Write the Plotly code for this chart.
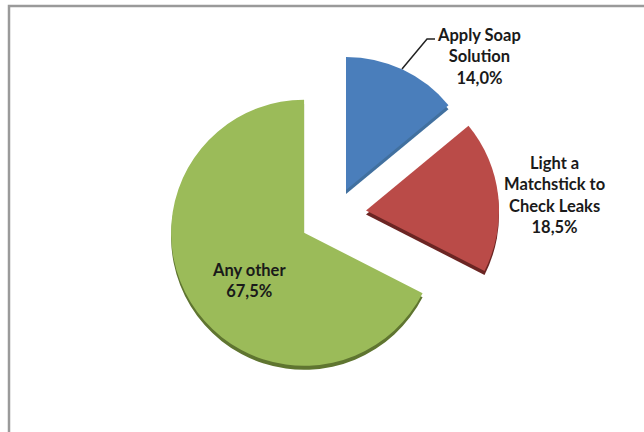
import plotly.graph_objects as go

W, H = 644, 432

labels = ["Apply Soap<br>Solution", "Light a<br>Matchstick to<br>Check Leaks", "Any other"]
values = [14.0, 18.5, 67.5]
pulls = [0.20, 0.237, 0.27]
face_colors = ["#4A7EBB", "#BA4B48", "#9BBB59"]
edge_colors = ["#41709F", "#6B2523", "#5F7530"]
label_centres = [(478.5, 56), (554.5, 195), (249, 280)]

DOMAIN_X = (165.8, 503.6)
DOMAIN_Y = (45, 383)
DEPTH = 4


def pie_layer(colors, shift):
    return go.Pie(
        labels=labels,
        values=values,
        sort=False,
        direction="clockwise",
        rotation=0,
        pull=pulls,
        marker=dict(colors=colors, line=dict(width=0)),
        textinfo="none",
        hoverinfo="label+percent",
        showlegend=False,
        domain=dict(
            x=[DOMAIN_X[0] / W, DOMAIN_X[1] / W],
            y=[1 - (DOMAIN_Y[1] + shift) / H, 1 - (DOMAIN_Y[0] + shift) / H],
        ),
    )


fig = go.Figure([pie_layer(edge_colors, DEPTH), pie_layer(face_colors, 0)])

annotations = [
    dict(
        x=cx / W,
        y=1 - cy / H,
        xref="paper",
        yref="paper",
        text=f"{label}<br>{value:.1f}%".replace(".", ","),
        showarrow=False,
        align="center",
        xanchor="center",
        yanchor="middle",
        font=dict(family="Lato", size=16.5, color="#1a1a1a", weight="bold"),
    )
    for label, value, (cx, cy) in zip(labels, values, label_centres)
]


def px(x, y):
    return f"{x / W},{1 - y / H}"


shapes = [
    # frame around the chart area
    dict(type="path", xref="paper", yref="paper",
         path=f"M {px(9, H)} L {px(9, 6)} L {px(W, 6)}",
         line=dict(color="#9a9a9a", width=2.5)),
    # leader from the blue slice to its label
    dict(type="path", xref="paper", yref="paper",
         path=f"M {px(402, 69)} L {px(427, 39)} L {px(435, 39)}",
         line=dict(color="#222222", width=1.5)),
]

fig.update_layout(
    width=W,
    height=H,
    margin=dict(l=0, r=0, t=0, b=0),
    paper_bgcolor="white",
    annotations=annotations,
    shapes=shapes,
)

fig.write_html("out.html")
